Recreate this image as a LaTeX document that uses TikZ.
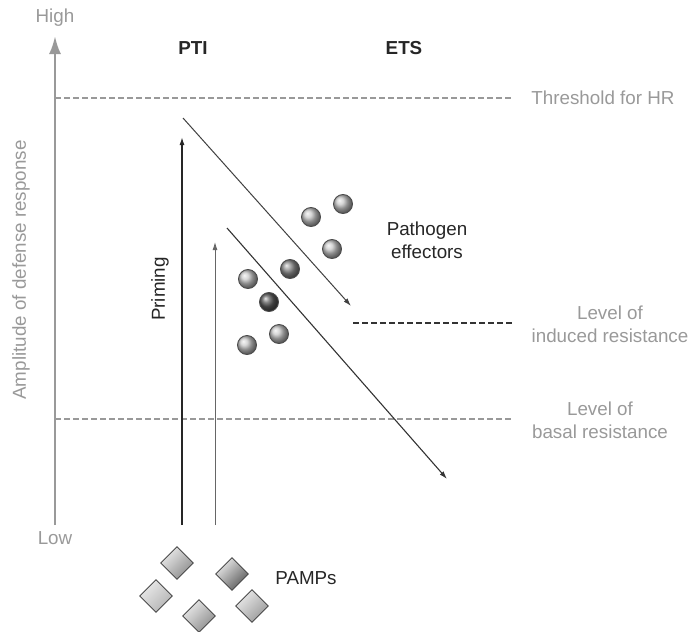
\documentclass[tikz,border=0pt]{standalone}
\usepackage{fontspec}
\setmainfont{Liberation Sans}
\usetikzlibrary{arrows.meta,shapes.geometric}
\newcommand{\clrlabel}{black!40}
\newcommand{\clraxis}{black!40}
\newcommand{\clrtext}{black!85}

\begin{document}
\begin{tikzpicture}[x=1pt, y=-1pt, font=\fontsize{18.8}{23}\selectfont,
    ball/.style={circle, draw=black!70, line width=0.9pt, minimum size=19pt, inner sep=0pt,
        shading=ball, ball color=#1},
    ball/.default=black!22,
    pamp/.style={diamond, draw=black!70, line width=0.9pt, minimum size=33pt, inner sep=0pt,
        shading=axis, left color=black!8, right color=black!#1, shading angle=45},
    pamp/.default=45,
    level/.style={dashed, dash pattern=on 6pt off 3pt, line width=1.1pt}]
    \useasboundingbox (0,0) rectangle (691,632);

    % axis
    \node[text=\clrlabel] (high) at (55,18) {High};
    \node[text=\clrlabel] (low) at (55,538) {Low};
    \coordinate (axbot) at (55,525);
    \coordinate (axtop) at (55,36);
    \draw[\clraxis, line width=2.6pt, -{Latex[length=18pt,width=12pt]}] (axbot) -- (axtop);
    \node[text=\clrlabel, rotate=90] (amp) at (21,270) {Amplitude of defense response};

    \node[text=\clrtext, font=\fontsize{18.8}{23}\selectfont\bfseries] (pti) at (193,48) {PTI};
    \node[text=\clrtext, font=\fontsize{18.8}{23}\selectfont\bfseries] (ets) at (404,48) {ETS};

    % levels
    \coordinate (thrl) at (55,98);
    \coordinate (thrr) at (512,98);
    \draw[level, \clraxis] (thrl) -- (thrr);
    \node[text=\clrlabel] (thr) at (603,98) {Threshold for HR};

    \coordinate (indl) at (353,323);
    \coordinate (indr) at (512,323);
    \draw[level, black!80] (indl) -- (indr);
    \node[text=\clrlabel, align=center] (ind) at (610,324) {Level of\\induced resistance};

    \coordinate (basl) at (55,419);
    \coordinate (basr) at (512,419);
    \draw[level, \clraxis] (basl) -- (basr);
    \node[text=\clrlabel, align=center] (bas) at (600,420) {Level of\\basal resistance};

    % priming
    \coordinate (pr1a) at (182,525);
    \coordinate (pr1b) at (182,137);
    \coordinate (pr2a) at (215,525);
    \coordinate (pr2b) at (215,242);
    \draw[black!85, line width=1.4pt, -{Latex[length=8pt,width=5pt]}] (pr1a) -- (pr1b);
    \draw[black!60, line width=0.9pt, -{Latex[length=8pt,width=5pt]}] (pr2a) -- (pr2b);
    \node[text=\clrtext, rotate=90] (prim) at (160,289) {Priming};

    % ETS
    \coordinate (ets1a) at (183,118);
    \coordinate (ets1b) at (351,306);
    \coordinate (ets2a) at (227,228);
    \coordinate (ets2b) at (447,479);
    \draw[black!75, line width=1pt, -{Latex[length=8pt,width=5pt]}] (ets1a) -- (ets1b);
    \draw[black!80, line width=1.1pt, -{Latex[length=8pt,width=5pt]}] (ets2a) -- (ets2b);

    \node[ball] (e1) at (311,217) {};
    \node[ball] (e2) at (343,204) {};
    \node[ball] (e3) at (332,249) {};
    \node[ball=black!45] (e4) at (290,269) {};
    \node[ball] (e5) at (248,279) {};
    \node[ball=black!65] (e6) at (269,302) {};
    \node[ball] (e7) at (279,334) {};
    \node[ball] (e8) at (247,345) {};
    \node[text=\clrtext, align=center] (eff) at (427,240) {Pathogen\\effectors};

    % PAMPs
    \node[pamp] (p1) at (177,563) {};
    \node[pamp=30] (p2) at (156,596) {};
    \node[pamp=65] (p3) at (232,574) {};
    \node[pamp] (p4) at (199,616) {};
    \node[pamp=40] (p5) at (252,606) {};
    \node[text=\clrtext] (pamps) at (306,578) {PAMPs};
\end{tikzpicture}
\end{document}
